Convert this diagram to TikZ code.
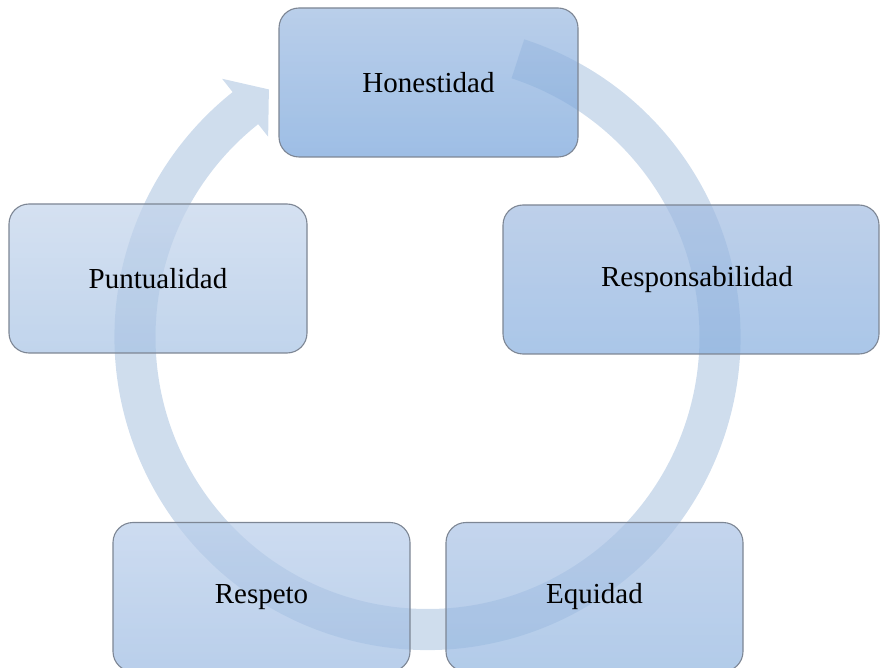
\documentclass[tikz,border=0pt]{standalone}
\usepackage{fontspec}
\setmainfont{Liberation Serif}
\usetikzlibrary{calc}
\definecolor{bandc}{RGB}{79,129,189}
\definecolor{edgec}{RGB}{125,134,148}
\definecolor{hT}{RGB}{156,186,225}\definecolor{hB}{RGB}{116,162,218}
\definecolor{rT}{RGB}{162,188,225}\definecolor{rB}{RGB}{134,174,222}
\definecolor{eT}{RGB}{171,195,229}\definecolor{eB}{RGB}{145,181,224}
\definecolor{sT}{RGB}{184,205,234}\definecolor{sB}{RGB}{155,186,226}
\definecolor{pT}{RGB}{195,212,235}\definecolor{pB}{RGB}{166,194,228}
\tikzset{
  valbox/.style={rectangle, rounded corners=20pt, draw=edgec, line width=1.1pt,
    minimum height=149pt, fill opacity=0.7, draw opacity=1, text opacity=1,
    font=\fontsize{29}{34}\selectfont, inner sep=0pt},
  band/.style={fill=bandc, fill opacity=0.27}
}
\begin{document}
\begin{tikzpicture}[x=1pt,y=1pt]
\useasboundingbox (0,0) rectangle (881,-668);
\coordinate (C) at (427.5,-337);
% circular arrow
\fill[band] ($(C)+(72:313pt)$) arc[start angle=72, end angle=-231.5, radius=313pt]
  -- ($(C)+(128.5:330pt)$)
  -- ($(C)+(128.5:292.5pt)+(38.5:30pt)$)
  -- ($(C)+(128.5:256pt)$)
  -- ($(C)+(128.5:272pt)$)
  arc[start angle=-231.5, end angle=72, radius=272pt] -- cycle;
% boxes
\node[valbox, minimum width=299pt, top color=hT, bottom color=hB] (hon) at (428.5,-82.5) {Honestidad};
\node[valbox, minimum width=376pt, top color=rT, bottom color=rB] (res) at (691,-279.5) {\hspace*{12pt}\raisebox{-2pt}{Responsabilidad}};
\node[valbox, minimum width=297pt, top color=eT, bottom color=eB] (equ) at (594.5,-597) {Equidad};
\node[valbox, minimum width=297pt, top color=sT, bottom color=sB] (rsp) at (261.5,-597) {Respeto};
\node[valbox, minimum width=298pt, top color=pT, bottom color=pB] (pun) at (158,-278.5) {Puntualidad};
\end{tikzpicture}
\end{document}
